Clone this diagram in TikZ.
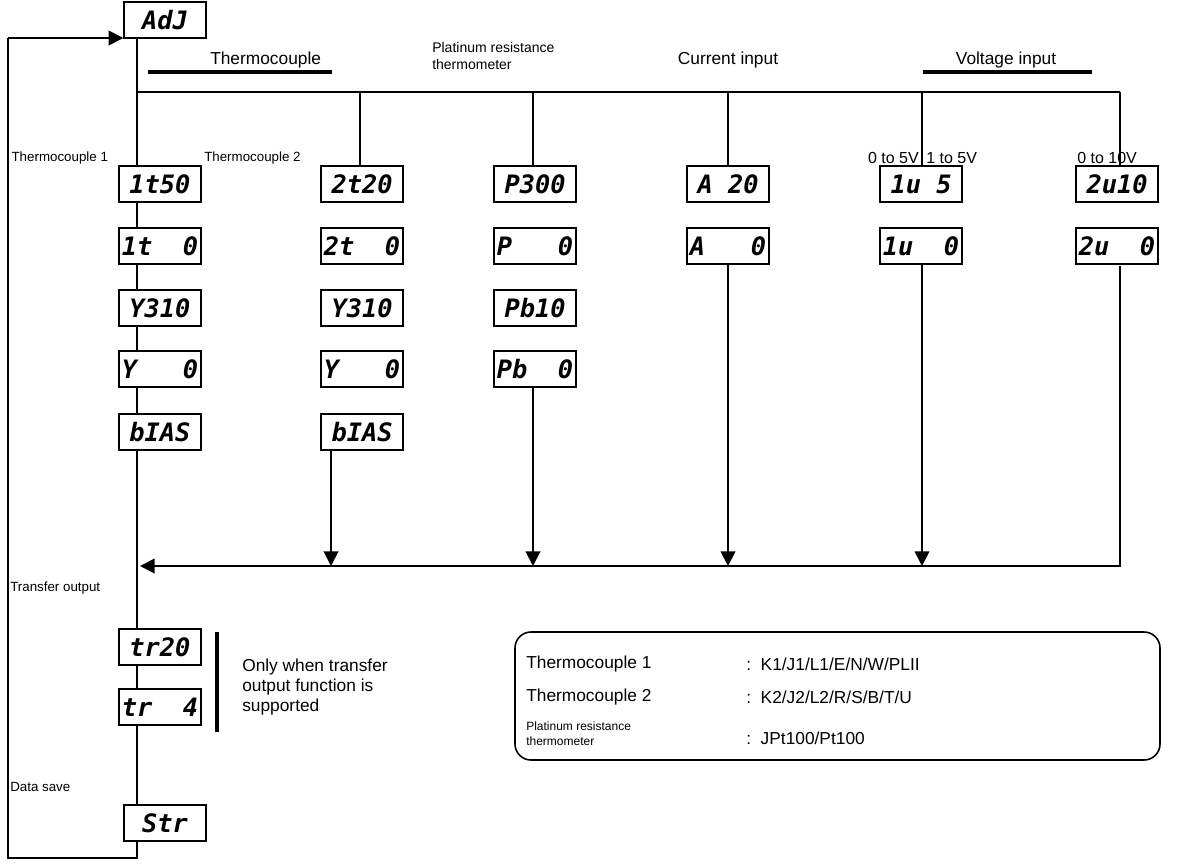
\documentclass[tikz,border=0pt]{standalone}
\usepackage{fontspec}
\setmainfont{Liberation Sans}
\newfontfamily\segfont{DejaVu Sans Mono}
\usetikzlibrary{arrows.meta,backgrounds}
\begin{document}
\begin{tikzpicture}[x=0.75pt,y=-0.75pt,
 disp/.style={draw,fill=white,line width=1.6pt,minimum width=61pt,minimum height=27pt,inner sep=0pt,font=\segfont\bfseries\itshape\fontsize{19}{19}\selectfont},
 ln/.style={line width=1.4pt},
 arr/.style={ln,-{Triangle[length=11pt,width=11pt]}},
 lbl/.style={font=\fontsize{10}{11}\selectfont,inner sep=0pt},
 hd/.style={font=\fontsize{13}{14}\selectfont,inner sep=0pt}]
\useasboundingbox (0,0) rectangle (1195,865);
\node[disp] (adj) at (165,20) {AdJ};
% column 1
\node[disp] (a1) at (160,184) {1t50};
\node[disp] (a2) at (160,246) {1t\ \ 0};
\node[disp] (a3) at (160,308) {Y310};
\node[disp] (a4) at (160,369) {Y\ \ \ 0};
\node[disp] (a5) at (160,432) {bIAS};
% column 2
\node[disp] (b1) at (362,184) {2t20};
\node[disp] (b2) at (362,246) {2t\ \ 0};
\node[disp] (b3) at (362,308) {Y310};
\node[disp] (b4) at (362,369) {Y\ \ \ 0};
\node[disp] (b5) at (362,432) {bIAS};
% column 3
\node[disp] (c1) at (535,184) {P300};
\node[disp] (c2) at (535,246) {P\ \ \ 0};
\node[disp] (c3) at (535,308) {Pb10};
\node[disp] (c4) at (535,369) {Pb\ \ 0};
% column 4
\node[disp] (d1) at (728,184) {A\ 20};
\node[disp] (d2) at (728,246) {A\ \ \ 0};
% column 5
\node[disp] (e1) at (921,184) {1u\ 5};
\node[disp] (e2) at (921,246) {1u\ \ 0};
% column 6
\node[disp] (f1) at (1117,184) {2u10};
\node[disp] (f2) at (1117,246) {2u\ \ 0};
% bottom
\node[disp] (t1) at (160,647) {tr20};
\node[disp] (t2) at (160,707) {tr\ \ 4};
\node[disp] (s) at (165,823) {Str};
\coordinate (bus1) at (137,92);
\coordinate (bus6) at (1120,92);
\coordinate (bot) at (137,858);
\coordinate (bl) at (8,858);
\coordinate (tl) at (8,38);
\begin{scope}[on background layer]
\draw[ln] (137,38) -- (bot) -- (bl) -- (tl);
\draw[ln] (bus1) -- (bus6);
\foreach \x in {360,533,728,922,1120}{\draw[ln] (\x,92) -- (\x,166);}
\draw[ln] (1120,266) -- (1120,566) -- (150,566);
\end{scope}
\draw[arr] (tl) -- (adj.west |- tl);
\draw[arr] (1120,566) -- (140,566);
\draw[arr] (331,450) -- (331,566);
\draw[arr] (533,387) -- (533,566);
\draw[arr] (728,264) -- (728,566);
\draw[arr] (922,264) -- (922,566);
% bars
\draw[line width=3.5pt] (148,72) -- (332,72);
\draw[line width=3.5pt] (923,72) -- (1092,72);
\draw[line width=3.5pt] (217,632) -- (217,732);
% header labels
\node[hd,anchor=west] at (210,60) {Thermocouple};
\node[lbl,anchor=west,align=left,font=\fontsize{10.5}{13}\selectfont] at (432,56) {Platinum resistance\\thermometer};
\node[hd] at (728,60) {Current input};
\node[hd] at (1006,60) {Voltage input};
\node[lbl,anchor=west,fill=white,inner sep=1pt] at (10,158) {Thermocouple 1};
\node[lbl,anchor=west] at (204,158) {Thermocouple 2};
\node[hd,anchor=east,font=\fontsize{12}{13}\selectfont] at (919,158) {0 to 5V};
\node[hd,anchor=west,font=\fontsize{12}{13}\selectfont] at (926,158) {1 to 5V};
\node[hd,anchor=west,font=\fontsize{12}{13}\selectfont] at (1077,158) {0 to 10V};
\node[lbl,anchor=west] at (10,588) {Transfer output};
\node[lbl,anchor=west] at (10,787) {Data save};
\node[hd,anchor=west,align=left,font=\fontsize{13}{15}\selectfont] at (242,687) {Only when transfer\\output function is\\supported};
% legend
\draw[line width=1.2pt,rounded corners=12pt] (515,632) rectangle (1160,760);
\node[hd,anchor=west] at (526,664) {Thermocouple 1};
\node[hd,anchor=west] at (746,664) {:\ \ K1/J1/L1/E/N/W/PLII};
\node[hd,anchor=west] at (526,697) {Thermocouple 2};
\node[hd,anchor=west] at (746,697) {:\ \ K2/J2/L2/R/S/B/T/U};
\node[lbl,anchor=west,align=left,font=\fontsize{9}{11}\selectfont] at (526,734) {Platinum resistance\\thermometer};
\node[hd,anchor=west] at (746,738) {:\ \ JPt100/Pt100};
\end{tikzpicture}
\end{document}
